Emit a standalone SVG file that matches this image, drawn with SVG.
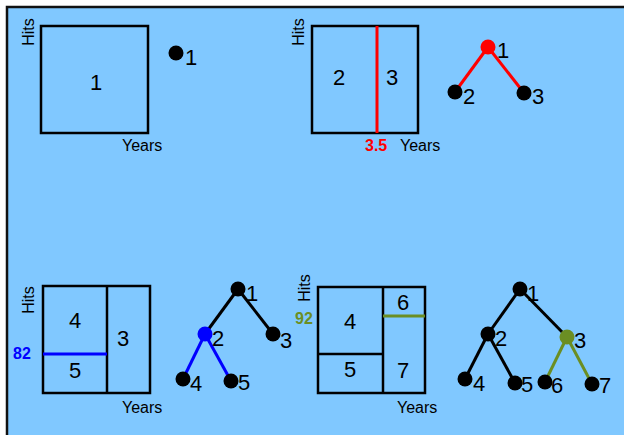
<svg xmlns="http://www.w3.org/2000/svg" width="624" height="435" viewBox="0 0 624 435">
<style>
.bg{fill:#80C8FF;stroke:#111;stroke-width:2.5}
.box{fill:none;stroke:#000;stroke-width:2.5}
.ax{font-family:"Liberation Sans",Arial,sans-serif;font-size:16px;fill:#000}
.num{font-family:"Liberation Sans",Arial,sans-serif;font-size:22px;fill:#000}
.lbl{font-family:"Liberation Sans",Arial,sans-serif;font-size:22px;fill:#000}
.bold{font-family:"Liberation Sans",Arial,sans-serif;font-size:16px;font-weight:bold}
.dot{fill:#000}
.e{stroke:#000;stroke-width:3;fill:none}
.er{stroke:#FF0000;stroke-width:3}
.eb{stroke:#0000FF;stroke-width:3}
.eg{stroke:#6B8E23;stroke-width:3}
</style>
<rect x="0" y="0" width="624" height="435" fill="#fff"/>
<rect class="bg" x="7" y="7" width="640" height="440"/>

<!-- Panel 1 -->
<g id="panel1">
<rect class="box" x="41" y="26" width="107" height="107"/>
<text class="num" x="96" y="90" text-anchor="middle">1</text>
<text class="ax" transform="translate(34,32) rotate(-90)" text-anchor="middle">Hits</text>
<text class="ax" x="122" y="151">Years</text>
</g>
<g id="t1n1"><circle class="dot" cx="176" cy="53" r="7.5"/><text class="lbl" x="185" y="65">1</text></g>

<!-- Panel 2 -->
<g id="panel2">
<rect class="box" x="312" y="26" width="106" height="107"/>
<line class="er" x1="377" y1="26" x2="377" y2="133"/>
<text class="num" x="339" y="85" text-anchor="middle">2</text>
<text class="num" x="392" y="85" text-anchor="middle">3</text>
<text class="ax" transform="translate(304,32) rotate(-90)" text-anchor="middle">Hits</text>
<text class="bold" x="365" y="151" fill="#FF0000">3.5</text>
<text class="ax" x="400" y="151">Years</text>
</g>
<g id="connectors2">
<line class="er" x1="488" y1="47" x2="455" y2="92"/>
<line class="er" x1="488" y1="47" x2="524" y2="93"/>
</g>
<g id="t2n1"><circle cx="488" cy="47" r="7.5" fill="#FF0000"/><text class="lbl" x="497" y="58">1</text></g>
<g id="t2n2"><circle class="dot" cx="455" cy="92" r="7.5"/><text class="lbl" x="463" y="104">2</text></g>
<g id="t2n3"><circle class="dot" cx="524" cy="93" r="7.5"/><text class="lbl" x="532" y="104">3</text></g>

<!-- Panel 3 -->
<g id="panel3">
<rect class="box" x="43" y="286" width="107" height="107"/>
<line class="box" x1="107" y1="286" x2="107" y2="393"/>
<line class="eb" x1="43" y1="354" x2="107" y2="354"/>
<text class="num" x="75" y="328" text-anchor="middle">4</text>
<text class="num" x="75" y="378" text-anchor="middle">5</text>
<text class="num" x="123" y="346" text-anchor="middle">3</text>
<text class="ax" transform="translate(34,300) rotate(-90)" text-anchor="middle">Hits</text>
<text class="bold" x="13" y="359" fill="#0000FF">82</text>
<text class="ax" x="122" y="413">Years</text>
</g>
<g id="connectors3">
<line class="e" x1="238" y1="289" x2="205" y2="334"/>
<line class="e" x1="238" y1="289" x2="273" y2="334"/>
<line class="eb" x1="205" y1="334" x2="183" y2="379"/>
<line class="eb" x1="205" y1="334" x2="231" y2="381"/>
</g>
<g id="t3n1"><circle class="dot" cx="238" cy="289" r="7.5"/><text class="lbl" x="246" y="301">1</text></g>
<g id="t3n2"><circle cx="205" cy="334" r="7.5" fill="#0000FF"/><text class="lbl" x="212" y="346">2</text></g>
<g id="t3n3"><circle class="dot" cx="273" cy="334" r="7.5"/><text class="lbl" x="280" y="348">3</text></g>
<g id="t3n4"><circle class="dot" cx="183" cy="379" r="7.5"/><text class="lbl" x="190" y="391">4</text></g>
<g id="t3n5"><circle class="dot" cx="231" cy="381" r="7.5"/><text class="lbl" x="238" y="390">5</text></g>

<!-- Panel 4 -->
<g id="panel4">
<rect class="box" x="318" y="287" width="107" height="106"/>
<line class="box" x1="383" y1="287" x2="383" y2="393"/>
<line class="box" x1="318" y1="354" x2="383" y2="354"/>
<line class="eg" x1="383" y1="316" x2="425" y2="316"/>
<text class="num" x="350" y="329" text-anchor="middle">4</text>
<text class="num" x="350" y="377" text-anchor="middle">5</text>
<text class="num" x="403" y="310" text-anchor="middle">6</text>
<text class="num" x="403" y="378" text-anchor="middle">7</text>
<text class="ax" transform="translate(310,288) rotate(-90)" text-anchor="middle">Hits</text>
<text class="bold" x="295" y="324" fill="#6B8E23">92</text>
<text class="ax" x="397" y="413">Years</text>
</g>
<g id="connectors4">
<line class="e" x1="520" y1="289" x2="488" y2="334"/>
<line class="e" x1="520" y1="289" x2="567" y2="337"/>
<line class="e" x1="488" y1="334" x2="465" y2="379"/>
<line class="e" x1="488" y1="334" x2="515" y2="383"/>
<line class="eg" x1="567" y1="337" x2="545" y2="382"/>
<line class="eg" x1="567" y1="337" x2="592" y2="384"/>
</g>
<g id="t4n1"><circle class="dot" cx="520" cy="289" r="7.5"/><text class="lbl" x="527" y="301">1</text></g>
<g id="t4n2"><circle class="dot" cx="488" cy="334" r="7.5"/><text class="lbl" x="495" y="346">2</text></g>
<g id="t4n3"><circle cx="567" cy="337" r="7.5" fill="#6B8E23"/><text class="lbl" x="574" y="348">3</text></g>
<g id="t4n4"><circle class="dot" cx="465" cy="379" r="7.5"/><text class="lbl" x="473" y="391">4</text></g>
<g id="t4n5"><circle class="dot" cx="515" cy="383" r="7.5"/><text class="lbl" x="521" y="392">5</text></g>
<g id="t4n6"><circle class="dot" cx="545" cy="382" r="7.5"/><text class="lbl" x="551" y="393">6</text></g>
<g id="t4n7"><circle class="dot" cx="592" cy="384" r="7.5"/><text class="lbl" x="599" y="393">7</text></g>
</svg>
